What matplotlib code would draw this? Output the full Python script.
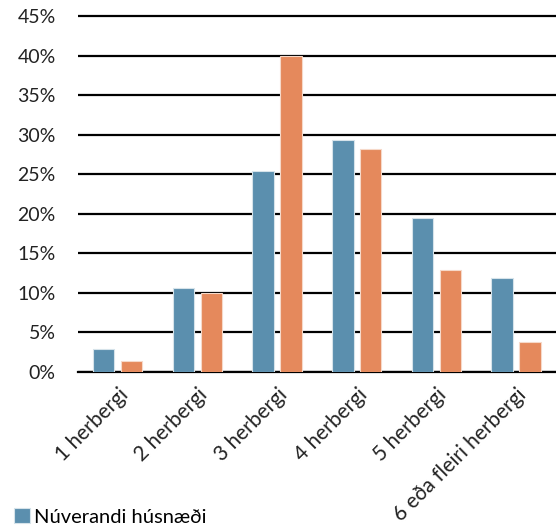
import matplotlib.pyplot as plt
import numpy as np

plt.rcParams['font.family'] = ['Lato', 'DejaVu Sans']

categories = ['1 herbergi', '2 herbergi', '3 herbergi', '4 herbergi',
              '5 herbergi', '6 eða fleiri herbergi']
nuverandi = [2.9, 10.6, 25.4, 29.3, 19.5, 11.9]
annad = [1.4, 10.0, 40.0, 28.2, 12.9, 3.8]
yticks = [0, 5, 10, 15, 20, 25, 30, 35, 40, 45]

blue = '#5b8fae'
orange = '#e5895c'

fig = plt.figure(figsize=(5.56, 5.31), dpi=100)
ax = fig.add_axes([0.140, 0.2994, 0.860, 0.6854])

x = np.arange(len(categories))
w = 0.27
ax.bar(x - 0.175, nuverandi, w, color=blue, edgecolor='#d6e3ea', linewidth=0.8,
       label='Núverandi húsnæði', zorder=3)
ax.bar(x + 0.175, annad, w, color=orange, edgecolor='#f6d9c9', linewidth=0.8,
       zorder=3)

ax.set_xlim(-0.5, len(categories) - 0.5)
ax.set_ylim(0, 46)
ax.set_yticks(yticks)
ax.set_yticklabels([f'{v}%' for v in yticks], fontsize=14, color='#222222')
ax.yaxis.grid(True, color='black', linewidth=1.6, zorder=0)
ax.tick_params(axis='y', length=0, pad=16)

ax.set_xticks(x)
ax.set_xticklabels(categories, rotation=45, ha='right', rotation_mode='anchor',
                   fontsize=15, color='#222222')
ax.tick_params(axis='x', length=0, pad=9)

for s in ['top', 'right', 'left']:
    ax.spines[s].set_visible(False)
ax.spines['bottom'].set_color('black')
ax.spines['bottom'].set_linewidth(1.6)

fig.legend(loc='lower left', bbox_to_anchor=(0.01, -0.005), frameon=False,
           fontsize=14.5, handlelength=0.8, handleheight=0.8,
           handletextpad=0.2, borderaxespad=0)

fig.savefig('out.png', dpi=100)
